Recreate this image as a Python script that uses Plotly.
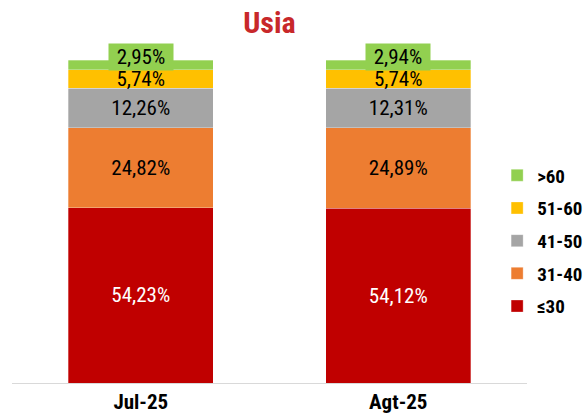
import plotly.graph_objects as go

categories = ["Jul-25", "Agt-25"]
groups = ["≤30", "31-40", "41-50", "51-60", ">60"]
v_le30 = [54.23, 54.12]
v_31_40 = [24.82, 24.89]
v_41_50 = [12.26, 12.31]
v_51_60 = [5.74, 5.74]
v_gt60 = [2.95, 2.94]
series = [v_le30, v_31_40, v_41_50, v_51_60, v_gt60]
colors = ["#c00000", "#ed7d31", "#a5a5a5", "#ffc000", "#92d050"]
text_colors = ["white", "black", "black", "black", "black"]

FONT = "Liberation Sans Narrow, Roboto Condensed, Arial Narrow, Liberation Sans, sans-serif"

fig = go.Figure()
for i, (name, vals) in enumerate(zip(groups, series)):
    last = i == len(groups) - 1
    fig.add_trace(go.Bar(
        x=categories, y=vals, name=f"<b>{name}</b>", legendgroup=name,
        legendrank=1000 - i,
        marker=dict(color=colors[i], line=dict(color="rgba(255,255,255,0.6)", width=0.5)),
        texttemplate="" if last else "%{y:.2f}%",
        textposition="inside", insidetextanchor="middle", textangle=0,
        textfont=dict(family=FONT, size=21, color=text_colors[i]),
        hoverinfo="skip",
    ))

# labels for the thin top segment, in a coloured box
totals = [sum(s[j] for s in series) for j in range(len(categories))]
for j, c in enumerate(categories):
    fig.add_annotation(
        x=c, y=totals[j], yanchor="middle", yshift=3,
        text=f"{v_gt60[j]:.2f}".replace(".", ",") + "%",
        showarrow=False, bgcolor=colors[-1], borderpad=1, width=62,
        font=dict(family=FONT, size=21, color="black"),
    )

fig.update_layout(
    width=588, height=418,
    barmode="stack", bargap=0.437,
    separators=",.",
    paper_bgcolor="white", plot_bgcolor="white",
    margin=dict(l=12, r=61, t=60, b=35, autoexpand=False),
    title=dict(text="<b>Usia</b>", x=0.4583, xanchor="center", y=0.947, yanchor="middle",
               font=dict(family=FONT, size=30, color="#c8282a")),
    uniformtext=dict(mode="show", minsize=21),
    legend=dict(traceorder="grouped", x=0.942, xanchor="left", y=0.44, yanchor="middle",
                tracegroupgap=5, font=dict(family=FONT, size=19, color="black"),
                itemwidth=30, bgcolor="rgba(0,0,0,0)"),
    xaxis=dict(showline=True, linecolor="#d9d9d9", linewidth=1, ticks="",
               tickfont=dict(family=FONT, size=21, color="black"),
               tickprefix="<b>", ticksuffix="</b>"),
    yaxis=dict(range=[0, 100], visible=False),
    showlegend=True,
)

fig.write_html("out.html", config={"displayModeBar": False},
               post_script="document.body.style.margin='0';")
